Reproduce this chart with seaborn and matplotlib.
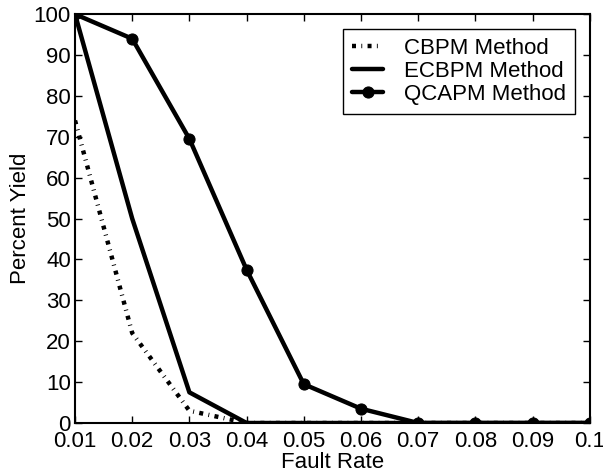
import pandas as pd
import matplotlib
matplotlib.use("Agg")
import matplotlib.pyplot as plt
import seaborn as sns

fault_rate = [0.01, 0.02, 0.03, 0.04, 0.05, 0.06, 0.07, 0.08, 0.09, 0.1]
cbpm_yield = [74, 22, 3, 0, 0, 0, 0, 0, 0, 0]
ecbpm_yield = [100, 50, 7.5, 0, 0, 0, 0, 0, 0, 0]
qcapm_yield = [100, 94, 69.5, 37.5, 9.5, 3.5, 0, 0, 0, 0]
xtick_labels = ["0.01", "0.02", "0.03", "0.04", "0.05", "0.06", "0.07", "0.08", "0.09", "0.1"]

sns.set_style("ticks")
plt.rcParams['font.family'] = ['Liberation Sans', 'DejaVu Sans']
plt.rcParams.update({"text.color": "black", "axes.labelcolor": "black",
                     "xtick.color": "black", "ytick.color": "black",
                     "axes.edgecolor": "black"})

df = pd.DataFrame({"fault": fault_rate, "CBPM": cbpm_yield,
                   "ECBPM": ecbpm_yield, "QCAPM": qcapm_yield})

fig = plt.figure(figsize=(6.03, 4.73), dpi=100)
ax = fig.add_axes([0.1244, 0.1057, 0.8536, 0.8643])

sns.lineplot(ax=ax, data=df, x="fault", y="CBPM", color="black", linewidth=3.2,
             label="CBPM Method")
ax.lines[-1].set_dashes((0.9, 1.2, 0.2, 1.2))
sns.lineplot(ax=ax, data=df, x="fault", y="ECBPM", color="black", linewidth=3.2,
             label="ECBPM Method")
sns.lineplot(ax=ax, data=df, x="fault", y="QCAPM", color="black", linewidth=3.2,
             marker="o", markersize=8, markeredgecolor="black", label="QCAPM Method")

ax.set_xlim(0.01, 0.1)
ax.set_ylim(0, 100)
ax.set_xticks(fault_rate)
ax.set_xticklabels(xtick_labels)
ax.set_yticks(range(0, 101, 10))
ax.tick_params(direction="in", top=True, right=True, labelsize=16, length=5, width=1, pad=3)
ax.tick_params(axis="x", pad=6)
for s in ax.spines.values():
    s.set_visible(True)
    s.set_linewidth(1.5)
ax.set_xlabel("Fault Rate", fontsize=16, labelpad=0)
ax.set_ylabel("Percent Yield", fontsize=16, labelpad=2)

leg = ax.legend(loc="upper right", fontsize=16, frameon=True, fancybox=False,
                edgecolor="black", handlelength=1.4, handletextpad=0.95,
                borderaxespad=0.65, labelspacing=0.1, borderpad=0.4)
leg.get_frame().set_linewidth(1.0)
leg.get_frame().set_alpha(1)

fig.savefig("out.png", dpi=100)
